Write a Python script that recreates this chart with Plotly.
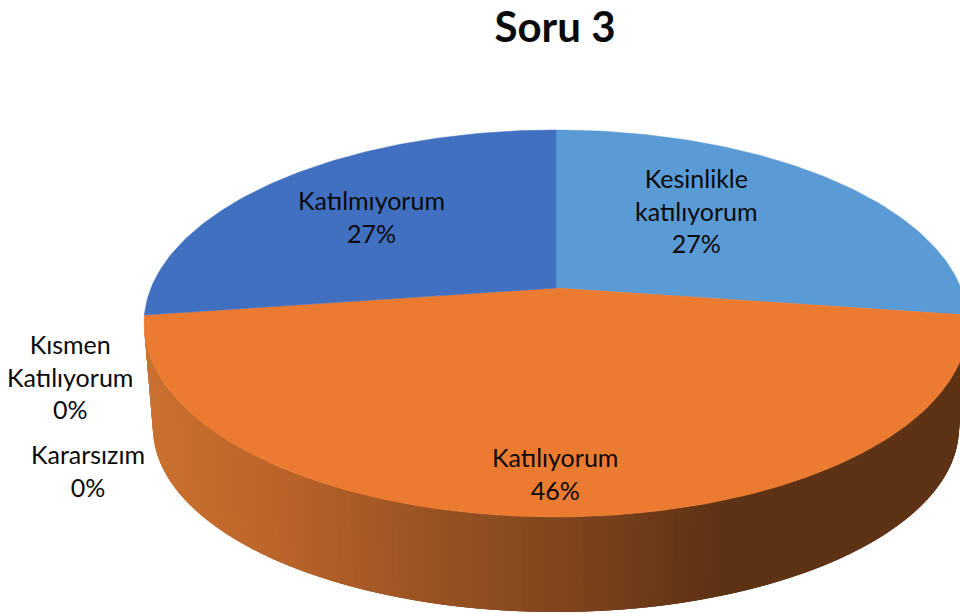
import math
import plotly.graph_objects as go

title = "Soru 3"
categories = ["Kesinlikle<br>katılıyorum", "Katılıyorum", "Kararsızım", "Kısmen<br>Katılıyorum", "Katılmıyorum"]
values = [27.25, 45.5, 0, 0, 27.25]
slice_colors = ["#5B9BD5", "#EB7B30", "#A5A5A5", "#FFC000", "#4170C0"]
# label centres in pixels (x, y of block middle)
label_pos = [(696, 210), (555, 473), (88, 470), (70, 376), (371, 216)]

W, H = 960, 613
FONT = "Lato"
CX, CY0 = 556.0, 288.0     # pie apex
A, B, K = 405.0, 187.0, 0.1835   # perspective circle projection
TOP_CY, TOP_RX, TOP_RY = 323.5, 412.0, 193.5
BOT_CY, BOT_RX, BOT_RY = 428.0, 403.0, 184.0
WALL_STOPS = [(144, (202, 113, 48)), (250, (190, 103, 43)), (400, (160, 86, 36)),
              (556, (128, 70, 30)), (720, (94, 50, 20)), (968, (94, 50, 20))]


def wall_color(x):
    for (x0, c0), (x1, c1) in zip(WALL_STOPS, WALL_STOPS[1:]):
        if x <= x1:
            f = max(0, (x - x0) / (x1 - x0))
            return "rgb(%d,%d,%d)" % tuple(round(a + (b - a) * f) for a, b in zip(c0, c1))
    return "rgb(94,50,20)"


def rim(theta):
    """theta clockwise from 12 o'clock, radians"""
    sx, sy = math.sin(theta), -math.cos(theta)
    w = 1 - K * sy
    return CX + A * sx / w, CY0 + B * sy / w


fig = go.Figure()

# side wall, drawn as overlapping strips (right to left) to carry the horizontal gradient
N = 150
for i in range(N):
    t0, t1 = math.pi * i / N, min(math.pi, math.pi * (i + 3) / N)
    p = [(TOP_RX * math.cos(t), BOT_RX * math.cos(t), math.sin(t)) for t in (t0, t1)]
    xs = [CX + p[0][0], CX + p[1][0], CX + p[1][1], CX + p[0][1], CX + p[0][0]]
    ys = [TOP_CY + TOP_RY * p[0][2], TOP_CY + TOP_RY * p[1][2],
          BOT_CY + BOT_RY * p[1][2], BOT_CY + BOT_RY * p[0][2], TOP_CY + TOP_RY * p[0][2]]
    col = wall_color(TOP_RX * math.cos((2 * i + 1) * math.pi / (2 * N)) + CX)
    fig.add_trace(go.Scatter(x=xs, y=ys, mode="lines", fill="toself", fillcolor=col,
                             line=dict(width=0), hoverinfo="skip", showlegend=False))

# top face slices
total = sum(values)
start = 0.0
for name, v, col in zip(categories, values, slice_colors):
    span = 2 * math.pi * v / total
    if v > 0:
        n = max(2, int(v * 4))
        pts = [rim(start + span * j / n) for j in range(n + 1)]
        xs = [CX] + [q[0] for q in pts] + [CX]
        ys = [CY0] + [q[1] for q in pts] + [CY0]
        fig.add_trace(go.Scatter(x=xs, y=ys, mode="lines", fill="toself", fillcolor=col,
                                 line=dict(color=col, width=0.5), name=name.replace("<br>", " "),
                                 hoverinfo="name", showlegend=False))
    start += span

for name, v, (lx, ly) in zip(categories, values, label_pos):
    fig.add_annotation(x=lx, y=ly, text=f"{name}<br>{round(v)}%", showarrow=False,
                       xanchor="center", yanchor="middle", align="center",
                       font=dict(family=FONT, size=25, color="#0A0A0A"))

fig.update_layout(
    width=W, height=H, margin=dict(l=0, r=0, t=0, b=0), autosize=False,
    paper_bgcolor="white", plot_bgcolor="white", showlegend=False,
    title=dict(text=f"<b>{title}</b>", x=555 / W, xanchor="center", y=1 - 27 / H, yanchor="middle",
               font=dict(family=FONT, size=42, color="#0A0A0A")),
    xaxis=dict(range=[0, W], visible=False, fixedrange=True),
    yaxis=dict(range=[H, 0], visible=False, fixedrange=True),
)
fig.write_html("out.html", config={"displayModeBar": False},
               post_script="document.body.style.margin='0';document.body.style.overflow='hidden';")
